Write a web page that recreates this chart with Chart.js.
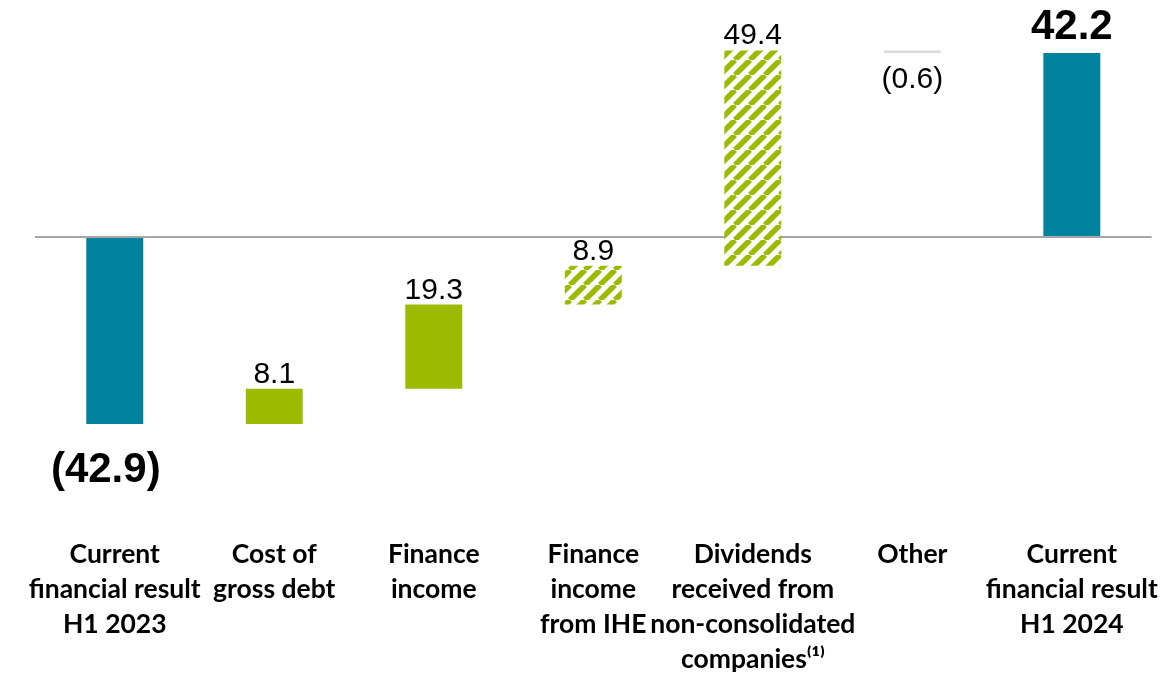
<!DOCTYPE html>
<html>
<head>
<meta charset="utf-8">
<script src="https://cdn.jsdelivr.net/npm/chart.js@4.4.0/dist/chart.umd.min.js"></script>
<style>
html,body{margin:0;padding:0;background:#fff;}
#wrap{width:1169px;height:675px;position:relative;}
</style>
</head>
<body>
<div id="wrap"><canvas id="c"></canvas></div>
<script>
const categories = [
  ['Current', 'financial result', 'H1 2023'],
  ['Cost of', 'gross debt'],
  ['Finance', 'income'],
  ['Finance', 'income', 'from IHE'],
  ['Dividends', 'received from', 'non-consolidated', 'companies\u207D\u00B9\u207E'],
  ['Other'],
  ['Current', 'financial result', 'H1 2024']
];
const deltas = [-42.9, 8.1, 19.3, 8.9, 49.4, -0.6, 42.2];
const barKinds = ['total', 'delta', 'delta', 'hatched', 'hatched', 'other', 'total'];
const valueLabels = ['(42.9)', '8.1', '19.3', '8.9', '49.4', '(0.6)', '42.2'];

const TEAL = '#00829f';
const GREEN = '#9cba00';
const GREY = '#d9d9d9';

function hatch(color) {
  const s = 15;
  const c = document.createElement('canvas');
  c.width = s; c.height = s;
  const g = c.getContext('2d');
  g.fillStyle = '#fff';
  g.fillRect(0, 0, s, s);
  g.strokeStyle = color;
  g.lineWidth = 5.5;
  g.beginPath();
  for (const x0 of [-s, 0, s]) {
    g.moveTo(x0, s);
    g.lineTo(x0 + s, 0);
  }
  g.stroke();
  return g.createPattern(c, 'repeat');
}

// build floating ranges from the deltas
const ranges = [];
let running = 0;
deltas.forEach((d, i) => {
  if (barKinds[i] === 'total') {
    ranges.push([0, d]);
    running = d;
  } else {
    ranges.push([running, running + d]);
    running += d;
  }
});

const hatchFill = hatch(GREEN);
const colors = barKinds.map(k => k === 'total' ? TEAL : k === 'delta' ? GREEN : k === 'hatched' ? hatchFill : GREY);

const labelPlugin = {
  id: 'valueLabels',
  afterDatasetsDraw(chart) {
    const ctx = chart.ctx;
    const meta = chart.getDatasetMeta(0);
    ctx.save();
    ctx.fillStyle = '#000';
    ctx.textAlign = 'center';
    meta.data.forEach((el, i) => {
      const top = Math.min(el.y, el.base);
      const bottom = Math.max(el.y, el.base);
      const bold = barKinds[i] === 'total';
      ctx.font = bold ? 'bold 42px "Liberation Sans", Arial, sans-serif' : '30px "Liberation Sans", Arial, sans-serif';
      if (deltas[i] < 0) {
        ctx.textBaseline = 'top';
        ctx.fillText(valueLabels[i], el.x - (bold ? 9 : 0), bottom + (bold ? 25 : 12));
      } else {
        ctx.textBaseline = 'alphabetic';
        ctx.fillText(valueLabels[i], el.x, top - (bold ? 14 : 6));
      }
    });
    ctx.restore();
  }
};

new Chart(document.getElementById('c'), {
  type: 'bar',
  data: {
    labels: categories,
    datasets: [{
      data: ranges,
      backgroundColor: colors,
      borderWidth: 0,
      barPercentage: 0.357,
      categoryPercentage: 1.0
    }]
  },
  options: {
    responsive: true,
    maintainAspectRatio: false,
    animation: false,
    layout: { padding: { left: 35, right: 17, top: 0, bottom: 0 } },
    plugins: { legend: { display: false }, tooltip: { enabled: false } },
    scales: {
      x: {
        grid: { display: false, drawTicks: false },
        border: { display: false },
        afterFit: s => { s.height = 148; },
        ticks: {
          color: '#000',
          padding: 10,
          maxRotation: 0,
          autoSkip: false,
          font: { family: 'Lato, "Open Sans", sans-serif', weight: 'bold', size: 26.5, lineHeight: 1.32 }
        }
      },
      y: {
        min: -66.53,
        max: 54.37,
        afterBuildTicks: s => { s.ticks = [{ value: 0 }]; },
        afterFit: s => { s.width = 0; },
        grid: { color: '#a6a6a6', lineWidth: 2, drawTicks: false },
        border: { display: false },
        ticks: { display: false }
      }
    }
  },
  plugins: [labelPlugin]
});
</script>
</body>
</html>
